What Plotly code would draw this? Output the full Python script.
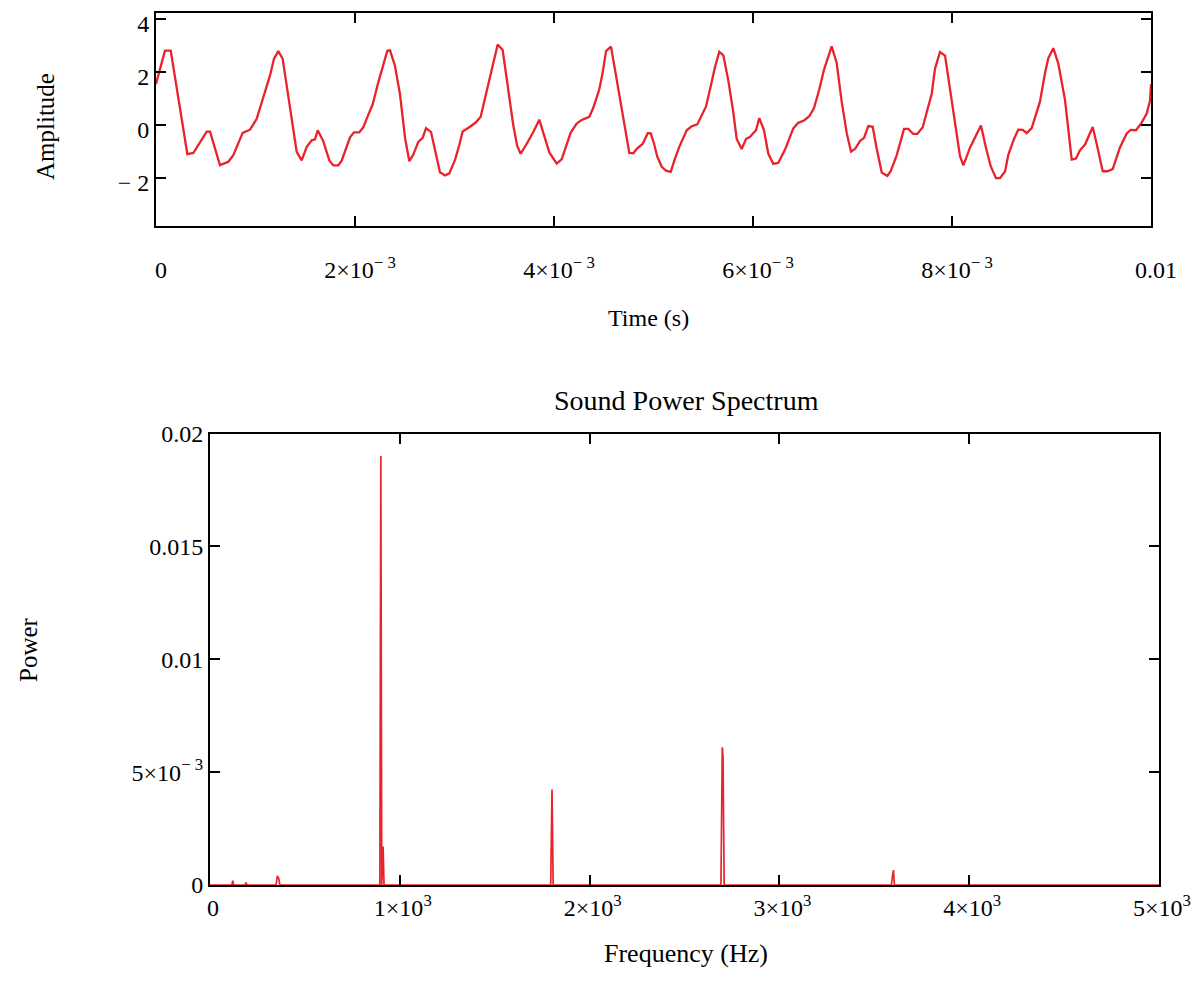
import plotly.graph_objects as go

# ---------------- data ----------------
# Sound waveform: time in milliseconds, amplitude
time_ms = [0.000, 0.090, 0.148, 0.315, 0.375, 0.435, 0.510, 0.543, 0.643, 0.727,
           0.777, 0.871, 0.945, 1.012, 1.095, 1.146, 1.186, 1.229, 1.273, 1.414,
           1.464, 1.515, 1.565, 1.598, 1.625, 1.681, 1.742, 1.782, 1.832, 1.866,
           1.950, 1.990, 2.043, 2.083, 2.134, 2.178, 2.234, 2.284, 2.325, 2.352,
           2.402, 2.452, 2.503, 2.546, 2.586, 2.636, 2.680, 2.714, 2.764, 2.854,
           2.905, 2.948, 3.005, 3.048, 3.082, 3.156, 3.216, 3.263, 3.317, 3.357,
           3.397, 3.434, 3.484, 3.531, 3.591, 3.631, 3.665, 3.726, 3.792, 3.852,
           3.899, 3.953, 4.027, 4.077, 4.168, 4.228, 4.278, 4.355, 4.395, 4.455,
           4.489, 4.523, 4.573, 4.630, 4.680, 4.757, 4.797, 4.837, 4.891, 4.942,
           4.972, 5.005, 5.038, 5.083, 5.126, 5.173, 5.216, 5.259, 5.334, 5.384,
           5.440, 5.474, 5.528, 5.575, 5.618, 5.661, 5.702, 5.752, 5.802, 5.836,
           5.886, 5.930, 5.970, 6.030, 6.063, 6.111, 6.154, 6.204, 6.254, 6.322,
           6.405, 6.455, 6.513, 6.566, 6.613, 6.666, 6.714, 6.791, 6.841, 6.891,
           6.942, 6.985, 7.025, 7.075, 7.116, 7.159, 7.203, 7.243, 7.294, 7.350,
           7.384, 7.444, 7.518, 7.561, 7.611, 7.651, 7.706, 7.746, 7.796, 7.829,
           7.879, 7.930, 7.997, 8.053, 8.080, 8.114, 8.181, 8.241, 8.291, 8.342,
           8.389, 8.442, 8.482, 8.533, 8.566, 8.623, 8.666, 8.711, 8.751, 8.801,
           8.851, 8.884, 8.935, 8.968, 9.018, 9.068, 9.136, 9.203, 9.246, 9.286,
           9.337, 9.414, 9.454, 9.515, 9.561, 9.615, 9.688, 9.756, 9.796, 9.849,
           9.906, 9.957, 9.990, 10.000]
amplitude = [1.55, 2.81, 2.81, -1.10, -1.06, -0.72, -0.25, -0.25, -1.52, -1.39,
             -1.14, -0.30, -0.18, 0.23, 1.23, 1.87, 2.50, 2.79, 2.50, -1.02,
             -1.34, -0.83, -0.58, -0.54, -0.20, -0.61, -1.34, -1.53, -1.53, -1.35,
             -0.47, -0.28, -0.28, -0.09, 0.39, 0.78, 1.61, 2.30, 2.80, 2.82,
             2.23, 1.16, -0.49, -1.37, -1.12, -0.64, -0.49, -0.12, -0.27, -1.79,
             -1.91, -1.83, -1.32, -0.76, -0.25, -0.07, 0.10, 0.31, 1.19, 1.88,
             2.51, 3.04, 2.83, 1.50, -0.02, -0.80, -1.09, -0.71, -0.27, 0.20,
             -0.38, -1.04, -1.46, -1.30, -0.29, 0.05, 0.19, 0.31, 0.65, 1.34,
             1.97, 2.79, 2.96, 1.72, 0.58, -1.06, -1.07, -0.88, -0.72, -0.31,
             -0.32, -0.70, -1.20, -1.58, -1.73, -1.77, -1.27, -0.83, -0.20, -0.05,
             0.02, 0.28, 0.70, 1.46, 2.19, 2.76, 2.63, 1.68, 0.48, -0.53,
             -0.91, -0.53, -0.45, -0.20, 0.26, -0.20, -1.09, -1.47, -1.43, -0.93,
             -0.13, 0.08, 0.17, 0.33, 0.64, 1.34, 2.09, 2.97, 2.34, 0.89,
             -0.31, -1.01, -0.91, -0.61, -0.49, -0.04, -0.07, -0.89, -1.80, -1.93,
             -1.75, -1.15, -0.15, -0.15, -0.34, -0.34, -0.09, 0.48, 1.17, 2.12,
             2.75, 2.62, 0.85, -0.54, -1.17, -1.53, -0.86, -0.40, -0.02, -0.87,
             -1.56, -2.01, -2.01, -1.76, -1.13, -0.53, -0.18, -0.19, -0.31, -0.12,
             0.51, 0.88, 1.96, 2.52, 2.90, 2.33, 0.94, -1.31, -1.27, -0.96,
             -0.74, -0.08, -0.71, -1.75, -1.75, -1.67, -0.85, -0.32, -0.19, -0.20,
             0.09, 0.43, 0.91, 1.54]

# Power spectrum: frequency (Hz), power
spec_freq = [0, 115, 120, 125, 185, 190, 195, 348, 355, 362, 368,
             895, 900, 905, 912, 917,
             1795, 1802, 1808,
             2692, 2699, 2703, 2709,
             3590, 3596, 3601, 3606,
             5000]
spec_power = [0, 0, 0.00019, 0, 0, 0.00011, 0, 0, 0.00040, 0.00030, 0,
              0, 0.0190, 0, 0.0017, 0,
              0, 0.00423, 0,
              0, 0.0061, 0.0057, 0,
              0, 0.00040, 0.00066, 0,
              0]

time_ticks = [0, 0.002, 0.004, 0.006, 0.008, 0.01]
time_tick_text = ["0", "2×10<sup>− 3</sup>", "4×10<sup>− 3</sup>",
                  "6×10<sup>− 3</sup>", "8×10<sup>− 3</sup>", "0.01"]
amp_ticks = [-2, 0, 2, 4]
amp_tick_text = ["− 2", "0", "2", "4"]
freq_ticks = [0, 1000, 2000, 3000, 4000, 5000]
freq_tick_text = ["0", "1×10<sup>3</sup>", "2×10<sup>3</sup>", "3×10<sup>3</sup>",
                  "4×10<sup>3</sup>", "5×10<sup>3</sup>"]
power_ticks = [0, 0.005, 0.01, 0.015, 0.02]
power_tick_text = ["0", "5×10<sup>− 3</sup>", "0.01", "0.015", "0.02"]

# ---------------- figure ----------------
OFF = 8                      # default page margin of the html body
W, H = 1201 - 2 * OFF, 994 - 2 * OFF
RED = "#e8232b"
FONT = "Liberation Serif, Times New Roman, serif"


def px(xpix):
    return (xpix - OFF) / W


def py(ypix):
    return 1 - (ypix - OFF) / H


time_s = [v * 1e-3 for v in time_ms]

fig = go.Figure()
fig.add_trace(go.Scatter(x=time_s, y=amplitude, mode="lines",
                         line=dict(color=RED, width=2.3), xaxis="x", yaxis="y",
                         showlegend=False, hoverinfo="skip"))
fig.add_trace(go.Scatter(x=spec_freq, y=spec_power, mode="lines",
                         line=dict(color=RED, width=1.7), xaxis="x2", yaxis="y2",
                         showlegend=False, hoverinfo="skip"))

axis_common = dict(showline=True, linecolor="black", linewidth=2, mirror="ticks",
                   ticks="inside", ticklen=10, tickwidth=2, tickcolor="black",
                   showgrid=False, zeroline=False, automargin=False,
                   ticklabeloverflow="allow",
                   tickfont=dict(family=FONT, size=24, color="black"))

fig.update_layout(
    width=W, height=H,
    margin=dict(l=0, r=0, t=0, b=0),
    paper_bgcolor="white", plot_bgcolor="white",
    font=dict(family=FONT, color="black"),
    xaxis=dict(domain=[px(156), px(1151)], range=[0, 0.01], anchor="y",
               tickmode="array", tickvals=time_ticks, ticktext=time_tick_text,
               ticklabelstandoff=22, ticklabelshift=5, **axis_common),
    yaxis=dict(domain=[py(225.5), py(13)], range=[-3.80, 4.23], anchor="x",
               tickmode="array", tickvals=amp_ticks, ticktext=amp_tick_text,
               ticklabelshift=5, **axis_common),
    xaxis2=dict(domain=[px(210), px(1159)], range=[0, 5000], anchor="y2",
                tickmode="array", tickvals=freq_ticks, ticktext=freq_tick_text,
                ticklabelshift=3, **axis_common),
    yaxis2=dict(domain=[py(885), py(433.5)], range=[0, 0.02], anchor="x2",
                tickmode="array", tickvals=power_ticks, ticktext=power_tick_text,
                **axis_common),
)


def label(text, xpix, ypix, angle=0, size=24):
    fig.add_annotation(text=text, x=px(xpix), y=py(ypix), xref="paper", yref="paper",
                       xanchor="center", yanchor="middle", textangle=angle,
                       showarrow=False, font=dict(family=FONT, size=size, color="black"))


label("Amplitude", 45, 127, angle=-90, size=25)
label("Time (s)", 648, 318, size=24)
label("Sound Power Spectrum", 686, 400, size=28)
label("Power", 28, 650, angle=-90, size=25)
label("Frequency (Hz)", 686, 953, size=26)

fig.write_html("out.html")
